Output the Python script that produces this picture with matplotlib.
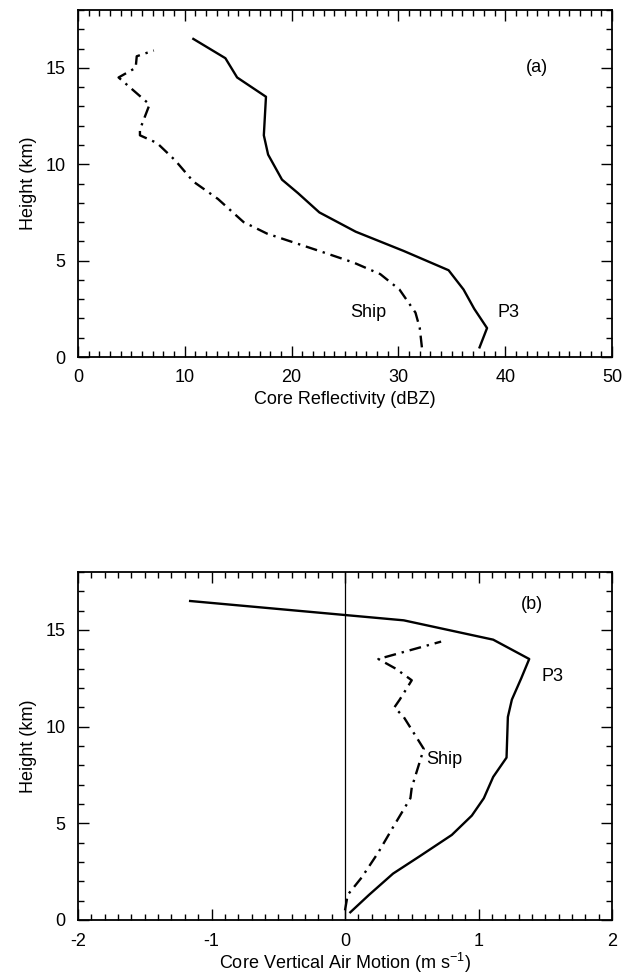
import matplotlib
matplotlib.use("Agg")
import matplotlib.pyplot as plt
from matplotlib.ticker import MultipleLocator

plt.rcParams['font.family'] = ['Liberation Sans', 'DejaVu Sans']
plt.rcParams['axes.unicode_minus'] = False

# Panel (a): core reflectivity (dBZ) vs height (km)
p3_refl_h = [0.5, 1.5, 2.5, 3.5, 4.5, 5.5, 6.5, 7.5, 8.5, 9.2, 10.5, 11.5, 12.5, 13.5, 14.5, 15.5, 16.5]
p3_refl = [37.6, 38.3, 37.1, 36.1, 34.7, 30.5, 26.0, 22.6, 20.6, 19.1, 17.8, 17.4, 17.5, 17.6, 14.9, 13.8, 10.8]

ship_refl_h = [0.5, 1.5, 2.3, 3.5, 4.3, 4.9, 5.5, 6.4, 7.0, 8.2, 9.1, 10.2, 11.1, 11.5, 11.8, 13.1, 14.5, 15.0, 15.6, 15.9]
ship_refl = [32.2, 32.0, 31.6, 30.1, 28.3, 25.8, 22.6, 17.7, 15.5, 13.1, 10.8, 9.1, 7.4, 5.8, 5.8, 6.7, 3.8, 5.4, 5.5, 7.1]

# Panel (b): core vertical air motion (m/s) vs height (km)
p3_w_h = [0.4, 1.3, 2.4, 3.3, 4.4, 5.4, 6.3, 7.4, 8.4, 10.5, 11.4, 12.5, 13.5, 14.5, 15.5, 16.5]
p3_w = [0.04, 0.18, 0.36, 0.56, 0.80, 0.95, 1.04, 1.11, 1.21, 1.22, 1.25, 1.32, 1.38, 1.11, 0.44, -1.16]

ship_w_h = [0.5, 1.3, 2.2, 3.5, 4.8, 6.3, 6.85, 8.85, 10.5, 11.0, 11.4, 12.4, 13.0, 13.5, 14.4]
ship_w = [0.0, 0.02, 0.125, 0.25, 0.36, 0.49, 0.50, 0.59, 0.44, 0.37, 0.41, 0.50, 0.38, 0.25, 0.72]

refl_ticks = [0, 10, 20, 30, 40, 50]
w_ticks = [-2, -1, 0, 1, 2]
h_ticks = [0, 5, 10, 15]

W, H = 625, 977
fig = plt.figure(figsize=(W / 100, H / 100), dpi=100)

ax1 = fig.add_axes([78 / W, 1 - 357 / H, 534 / W, 347 / H])
ax2 = fig.add_axes([78 / W, 1 - 920 / H, 534 / W, 348 / H])

dashdot = (0, (5, 2.5, 1, 2.5))
fs = 13

def style(ax):
    for s in ax.spines.values():
        s.set_linewidth(1.3)
    ax.tick_params(which='both', direction='in', top=True, right=True,
                   labelsize=fs, width=1.0, pad=9)
    ax.tick_params(which='major', length=8)
    ax.tick_params(which='minor', length=4)
    ax.yaxis.set_minor_locator(MultipleLocator(1))
    ax.set_yticks(h_ticks)
    ax.set_ylim(0, 18)
    ax.set_ylabel('Height (km)', fontsize=fs, labelpad=6)

# Panel (a)
ax1.plot(p3_refl, p3_refl_h, color='black', lw=1.7)
ax1.plot(ship_refl, ship_refl_h, color='black', lw=1.7, linestyle=dashdot)
ax1.set_xlim(0, 50)
ax1.set_xticks(refl_ticks)
ax1.xaxis.set_minor_locator(MultipleLocator(1))
style(ax1)
ax1.set_xlabel('Core Reflectivity (dBZ)', fontsize=fs, labelpad=3)
ax1.text(43, 15.0, '(a)', fontsize=fs, ha='center', va='center')
ax1.text(27.2, 2.3, 'Ship', fontsize=fs, ha='center', va='center')
ax1.text(40.3, 2.3, 'P3', fontsize=fs, ha='center', va='center')

# Panel (b)
ax2.axvline(0, color='black', lw=0.9)
ax2.plot(p3_w, p3_w_h, color='black', lw=1.7)
ax2.plot(ship_w, ship_w_h, color='black', lw=1.7, linestyle=dashdot)
ax2.set_xlim(-2, 2)
ax2.set_xticks(w_ticks)
ax2.xaxis.set_minor_locator(MultipleLocator(0.1))
style(ax2)
ax2.set_xlabel('Core Vertical Air Motion (m s$^{\\mathregular{-1}}$)', fontsize=fs, labelpad=1)
ax2.text(1.4, 16.3, '(b)', fontsize=fs, ha='center', va='center')
ax2.text(0.61, 8.3, 'Ship', fontsize=fs, ha='left', va='center')
ax2.text(1.47, 12.6, 'P3', fontsize=fs, ha='left', va='center')

fig.savefig('out.png', dpi=100)
